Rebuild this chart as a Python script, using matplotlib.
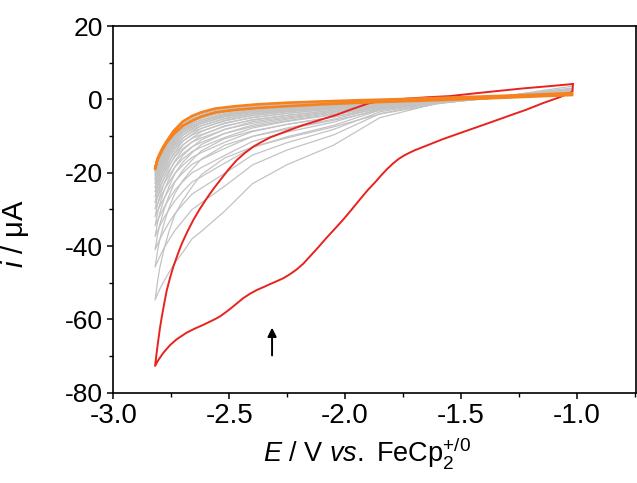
import matplotlib
matplotlib.use("Agg")
import matplotlib.pyplot as plt
from matplotlib.ticker import MultipleLocator

plt.rcParams["font.family"] = ["Liberation Sans", "DejaVu Sans"]
plt.rcParams["mathtext.fontset"] = "custom"
plt.rcParams["mathtext.rm"] = "Liberation Sans"
plt.rcParams["mathtext.it"] = "Liberation Sans:italic"
plt.rcParams["axes.unicode_minus"] = False

# ---- first scan (red) ----
e_red_fwd = [-1.016, -1.018, -1.044, -1.073, -1.145, -1.217, -1.289, -1.36, -1.432, -1.504,
             -1.576, -1.648, -1.70, -1.72, -1.745, -1.77, -1.795, -1.82, -1.845, -1.87,
             -1.9, -1.936, -1.972, -2.008, -2.044, -2.079, -2.115, -2.151, -2.18, -2.209,
             -2.238, -2.267, -2.295, -2.324, -2.352, -2.381, -2.41, -2.439, -2.468, -2.497,
             -2.52, -2.54, -2.56, -2.576, -2.612, -2.648, -2.683, -2.726, -2.755, -2.784,
             -2.805, -2.82]
i_red_fwd = [4.2, 2.1, 1.4, 0.6, -1.0, -2.8, -4.4, -6.0, -7.6, -9.2,
             -10.8, -12.6, -13.9, -14.5, -15.3, -16.3, -17.6, -19.1, -20.8, -22.6,
             -24.6, -27.3, -30.1, -32.8, -35.3, -37.7, -40.3, -42.8, -44.8, -46.4,
             -47.7, -48.8, -49.6, -50.4, -51.2, -52.0, -53.0, -54.2, -55.7, -57.2,
             -58.3, -59.2, -59.9, -60.4, -61.5, -62.5, -63.6, -65.4, -67.0, -69.1,
             -71.0, -72.7]
e_red_rev = [-2.82, -2.813, -2.806, -2.799, -2.791, -2.78, -2.77, -2.756, -2.741, -2.723,
             -2.705, -2.68, -2.655, -2.626, -2.597, -2.568, -2.54, -2.504, -2.468, -2.432,
             -2.396, -2.36, -2.324, -2.25, -2.18, -2.108, -2.036, -1.985, -1.936, -1.9,
             -1.864, -1.80, -1.734, -1.64, -1.547, -1.447, -1.34, -1.231, -1.12, -1.016]
i_red_rev = [-72.7, -69.0, -65.6, -62.4, -59.3, -55.5, -52.2, -48.8, -45.6, -42.4,
             -39.4, -36.0, -32.9, -29.8, -27.0, -24.4, -22.1, -19.2, -16.6, -14.6,
             -12.9, -11.6, -10.4, -8.6, -7.0, -5.6, -4.2, -3.0, -1.9, -1.1,
             -0.6, -0.2, 0.2, 0.6, 0.9, 1.6, 2.3, 3.0, 3.6, 4.2]

# ---- intermediate scans (grey) ----
e_grey_fwd = [-1.02, -1.3, -1.6, -1.85, -2.05, -2.25, -2.4, -2.52, -2.62, -2.66, -2.7,
              -2.735, -2.76, -2.78, -2.8, -2.81, -2.82]
e_grey_rev = e_grey_fwd[::-1]

grey_fwd = [
    [1.8, 0.7, -1.0, -5.0, -12.5, -17.8, -23.0, -30.5, -36.0, -38.0, -41.7, -44.6, -47.2, -49.4, -51.8, -53.2, -54.7],
    [1.6, 0.6, -0.8, -3.9, -9.7, -13.8, -17.9, -23.7, -28.2, -30.0, -33.1, -35.8, -38.3, -40.4, -42.9, -44.3, -45.7],
    [1.6, 0.6, -0.7, -3.4, -8.2, -11.8, -15.2, -20.2, -24.2, -25.8, -28.6, -31.2, -33.6, -35.8, -38.2, -39.6, -41.0],
    [1.5, 0.6, -0.6, -2.9, -7.1, -10.2, -13.1, -17.4, -21.1, -22.5, -25.1, -27.7, -30.1, -32.1, -34.6, -36.0, -37.4],
    [1.5, 0.6, -0.6, -2.6, -6.2, -8.9, -11.5, -15.3, -18.6, -20.0, -22.4, -24.8, -27.2, -29.3, -31.8, -33.1, -34.5],
    [1.4, 0.6, -0.5, -2.3, -5.4, -7.8, -10.1, -13.4, -16.4, -17.7, -20.0, -22.4, -24.7, -26.8, -29.2, -30.6, -32.0],
    [1.4, 0.6, -0.4, -2.0, -4.8, -6.8, -8.8, -11.7, -14.5, -15.8, -17.9, -20.2, -22.6, -24.6, -27.1, -28.6, -29.9],
    [1.4, 0.6, -0.4, -1.8, -4.2, -6.0, -7.8, -10.4, -13.0, -14.2, -16.2, -18.5, -20.8, -22.9, -25.3, -26.7, -28.1],
    [1.3, 0.5, -0.4, -1.6, -3.8, -5.4, -7.0, -9.3, -11.7, -12.9, -14.8, -17.1, -19.4, -21.4, -23.9, -25.3, -26.6],
    [1.3, 0.5, -0.3, -1.5, -3.3, -4.8, -6.1, -8.2, -10.5, -11.6, -13.4, -15.7, -17.9, -20.0, -22.4, -23.9, -25.2],
    [1.3, 0.5, -0.3, -1.3, -3.0, -4.3, -5.5, -7.4, -9.6, -10.6, -12.4, -14.6, -16.9, -18.9, -21.4, -22.8, -24.1],
    [1.3, 0.5, -0.3, -1.2, -2.6, -3.8, -4.9, -6.6, -8.6, -9.7, -11.3, -13.5, -15.8, -17.8, -20.3, -21.7, -23.0],
    [1.3, 0.5, -0.3, -1.1, -2.4, -3.4, -4.4, -5.9, -7.9, -8.9, -10.5, -12.7, -14.9, -17.0, -19.4, -20.8, -22.1],
    [1.2, 0.5, -0.3, -1.0, -2.1, -3.1, -4.0, -5.3, -7.2, -8.2, -9.8, -12.0, -14.2, -16.2, -18.7, -20.0, -21.4],
    [1.2, 0.5, -0.2, -0.9, -1.9, -2.8, -3.6, -4.8, -6.6, -7.6, -9.1, -11.2, -13.5, -15.5, -18.0, -19.4, -20.7],
    [1.2, 0.5, -0.2, -0.9, -1.7, -2.5, -3.3, -4.4, -6.1, -7.1, -8.6, -10.7, -12.9, -15.0, -17.4, -18.9, -20.1],
    [1.2, 0.5, -0.2, -0.8, -1.6, -2.3, -3.0, -4.0, -5.7, -6.6, -8.1, -10.2, -12.4, -14.4, -16.9, -18.3, -19.6],
]
grey_rev = [
    [-54.7, -50.0, -46.0, -40.5, -36.0, -31.5, -27.5, -23.8, -20.5, -16.0, -13.0, -10.5, -7.5, -4.0, -1.2, 1.0, 3.6],
    [-45.7, -41.6, -38.3, -33.5, -29.6, -25.7, -22.1, -19.0, -16.3, -12.5, -10.1, -8.1, -5.7, -3.0, -0.8, 1.0, 3.1],
    [-41.0, -37.2, -34.2, -29.8, -26.3, -22.6, -19.3, -16.5, -14.0, -10.7, -8.6, -6.8, -4.8, -2.5, -0.6, 1.0, 2.9],
    [-37.4, -33.8, -31.1, -27.0, -23.8, -20.3, -17.1, -14.5, -12.3, -9.3, -7.4, -5.8, -4.1, -2.1, -0.4, 1.0, 2.7],
    [-34.5, -31.1, -28.6, -24.7, -21.7, -18.5, -15.3, -13.0, -11.0, -8.2, -6.5, -5.1, -3.5, -1.8, -0.3, 1.0, 2.5],
    [-32.0, -28.8, -26.5, -22.7, -19.9, -16.8, -13.8, -11.6, -9.8, -7.2, -5.7, -4.4, -3.0, -1.5, -0.2, 1.0, 2.4],
    [-29.9, -26.7, -24.6, -21.0, -18.4, -15.4, -12.5, -10.5, -8.8, -6.4, -5.0, -3.8, -2.6, -1.2, -0.1, 1.0, 2.3],
    [-28.1, -25.1, -23.1, -19.6, -17.1, -14.3, -11.4, -9.5, -7.9, -5.7, -4.4, -3.3, -2.2, -1.0, 0.0, 1.0, 2.2],
    [-26.6, -23.7, -21.8, -18.5, -16.1, -13.3, -10.6, -8.7, -7.2, -5.2, -3.9, -2.9, -2.0, -0.9, 0.0, 1.0, 2.1],
    [-25.2, -22.4, -20.6, -17.4, -15.1, -12.4, -9.7, -8.0, -6.6, -4.6, -3.4, -2.5, -1.7, -0.7, 0.1, 1.0, 2.0],
    [-24.1, -21.4, -19.7, -16.5, -14.3, -11.7, -9.1, -7.4, -6.1, -4.2, -3.1, -2.3, -1.5, -0.6, 0.2, 1.0, 2.0],
    [-23.0, -20.3, -18.7, -15.7, -13.6, -11.0, -8.4, -6.8, -5.5, -3.8, -2.7, -2.0, -1.3, -0.5, 0.2, 1.0, 1.9],
    [-22.1, -19.5, -17.9, -15.0, -12.9, -10.4, -7.9, -6.3, -5.1, -3.4, -2.5, -1.7, -1.1, -0.4, 0.2, 1.0, 1.9],
    [-21.4, -18.8, -17.3, -14.4, -12.4, -10.0, -7.4, -6.0, -4.8, -3.1, -2.2, -1.5, -0.9, -0.3, 0.3, 1.0, 1.8],
    [-20.7, -18.2, -16.7, -13.9, -11.9, -9.5, -7.0, -5.6, -4.4, -2.9, -2.0, -1.3, -0.8, -0.2, 0.3, 1.0, 1.8],
    [-20.1, -17.7, -16.2, -13.4, -11.5, -9.1, -6.7, -5.3, -4.2, -2.7, -1.8, -1.2, -0.7, -0.2, 0.3, 1.0, 1.8],
    [-19.6, -17.1, -15.8, -13.0, -11.1, -8.8, -6.3, -5.0, -3.9, -2.4, -1.6, -1.0, -0.6, -0.1, 0.4, 1.0, 1.7],
]

# ---- last scan (orange) ----
e_orange_fwd = [-1.02, -1.2, -1.4, -1.6, -1.8, -1.95, -2.1, -2.25, -2.38, -2.48, -2.56,
                -2.62, -2.66, -2.70, -2.74, -2.77, -2.79, -2.80, -2.81, -2.815, -2.82]
i_orange_fwd = [1.2, 0.75, 0.25, -0.2, -0.6, -0.95, -1.35, -1.85, -2.35, -2.9, -3.55,
                -4.7, -5.8, -7.2, -9.5, -11.8, -14.0, -15.2, -16.6, -17.7, -19.0]
e_orange_rev = [-2.82, -2.815, -2.81, -2.80, -2.79, -2.77, -2.74, -2.70, -2.66, -2.62, -2.56,
                -2.48, -2.38, -2.25, -2.1, -1.95, -1.8, -1.6, -1.4, -1.2, -1.02]
i_orange_rev = [-19.0, -17.6, -16.3, -14.8, -13.5, -11.4, -8.6, -6.0, -4.5, -3.5, -2.5,
                -1.9, -1.35, -0.9, -0.55, -0.25, 0.0, 0.4, 0.8, 1.25, 1.7]

fig = plt.figure(figsize=(6.37, 4.83), dpi=100)
ax = fig.add_axes([0.178, 0.187, 0.820, 0.759])

for f, r in zip(grey_fwd, grey_rev):
    ax.plot(e_grey_fwd + e_grey_rev, f + r, color="#c3c3c3", lw=0.9, solid_joinstyle="round")

ax.plot(e_red_fwd + e_red_rev, i_red_fwd + i_red_rev, color="#e8231f", lw=1.4,
        solid_joinstyle="round")
ax.plot(e_orange_fwd + e_orange_rev, i_orange_fwd + i_orange_rev, color="#f5821f", lw=1.9,
        solid_joinstyle="round")

ax.annotate("", xy=(-2.315, -61.5), xytext=(-2.315, -70.6),
            arrowprops=dict(arrowstyle="-|>", color="black", lw=1.4, mutation_scale=13))

ax.set_xlim(-3.0, -0.745)
ax.set_ylim(-80, 20)
ax.xaxis.set_minor_locator(MultipleLocator(0.25))
ax.yaxis.set_minor_locator(MultipleLocator(10))
ax.set_xticks([-3.0, -2.5, -2.0, -1.5, -1.0])
ax.set_xticklabels(["-3.0", "-2.5", "-2.0", "-1.5", "-1.0"], fontsize=20)
ax.set_yticks([20, 0, -20, -40, -60, -80])
ax.set_yticklabels(["20", "0", "-20", "-40", "-60", "-80"], fontsize=19)

ax.tick_params(which="major", direction="out", length=4.5, width=1.1, pad=3)
ax.tick_params(which="minor", direction="out", length=2.8, width=1.0)
for s in ax.spines.values():
    s.set_linewidth(1.2)

ax.set_xlabel(r"$E$ / V $vs.$ FeCp$_2^{+/0}$", fontsize=19.5)
ax.set_ylabel(r"$i$ / μA", fontsize=21)
ax.xaxis.set_label_coords(0.486, -0.115)
ax.yaxis.set_label_coords(-0.158, 0.433)

fig.savefig("out.png", dpi=100)
